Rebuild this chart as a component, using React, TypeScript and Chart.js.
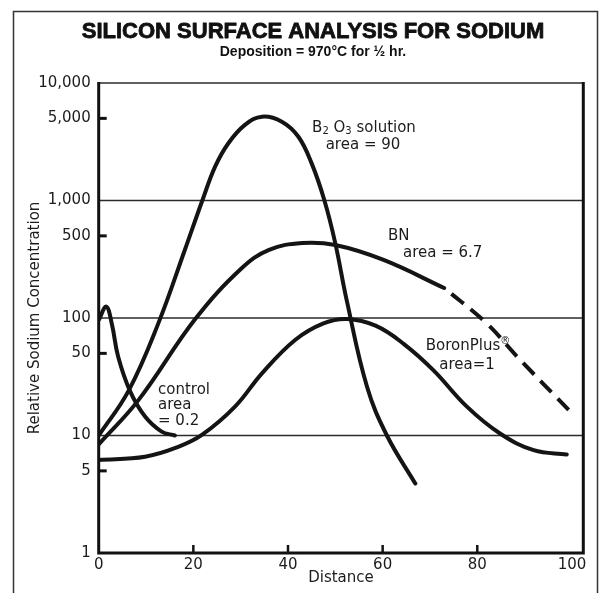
import React, { useEffect, useRef } from 'react';
import { Chart, registerables } from 'chart.js';

Chart.register(...registerables);

// ---- axis definitions ----
const xTickValues = [0, 20, 40, 60, 80, 100];
const yTickValues = [1, 5, 10, 50, 100, 500, 1000, 5000, 10000];
const yGridValues = [10, 100, 1000];
const yMarkValues = [5, 50, 500, 5000];
const xMarkValues = [20, 40, 60, 80];

// ---- series (distance, relative sodium concentration) ----
const controlDistance = [0, 1.6, 2.8, 4.1, 6.6, 9.8, 13.3, 16.1];
const controlValues = [96, 125, 88, 47, 24, 14.5, 10.8, 10];

const b2o3Distance = [0, 6.3, 12.6, 18.2, 21.9, 24.6, 27.4, 30.9, 34.5, 38.7, 42.2, 45.0, 47.7, 50.0, 52.4, 56.7, 60.9, 66.9];
const b2o3Values = [10, 24, 90, 379, 1000, 1940, 3070, 4400, 5170, 4690, 3490, 2070, 1000, 432, 142, 26, 10, 3.9];

const bnDistance = [0, 8.4, 20.4, 30.2, 36, 43, 50.0, 60.2, 73];
const bnValues = [8.4, 20, 98, 265, 380, 435, 418, 312, 180];

const bnDashedDistance = [73, 82.0, 88.4, 99.3];
const bnDashedValues = [180, 90, 47, 16.5];

const boronPlusDistance = [0, 9.8, 16.8, 21.8, 28.8, 34.5, 41.5, 47.5, 52.5, 58.5, 64.5, 70.7, 77.8, 84.8, 91.9, 98.9];
const boronPlusValues = [6.2, 6.6, 8.0, 10.1, 17.6, 33.8, 65, 90, 98, 86, 60, 36, 17.6, 10.4, 7.5, 6.9];

const FONT = '"DejaVu Sans", "Liberation Sans", sans-serif';
const TITLE_FONT = '"Liberation Sans", Arial, sans-serif';
const INK = '#1c1c1c';

const toPoints = (xs: number[], ys: number[]) => xs.map((x, i) => ({ x, y: ys[i] }));

type Part = { t: string; size?: number; dy?: number };

function drawRich(ctx: CanvasRenderingContext2D, parts: Part[], x: number, y: number, align: 'left' | 'center') {
  let w = 0;
  for (const p of parts) {
    ctx.font = `${p.size ?? 15}px ${FONT}`;
    w += ctx.measureText(p.t).width;
  }
  let cx = align === 'center' ? x - w / 2 : x;
  ctx.textAlign = 'left';
  ctx.textBaseline = 'alphabetic';
  for (const p of parts) {
    ctx.font = `${p.size ?? 15}px ${FONT}`;
    ctx.fillText(p.t, cx, y + (p.dy ?? 0));
    cx += ctx.measureText(p.t).width;
  }
}

const decorPlugin = {
  id: 'decor',
  beforeDatasetsDraw(chart: any) {
    const { ctx, chartArea: a, scales } = chart;
    const y = scales.y;
    ctx.save();
    ctx.strokeStyle = '#2b2b2b';
    ctx.lineWidth = 1.4;
    for (const v of yGridValues) {
      const py = y.getPixelForValue(v);
      ctx.beginPath();
      ctx.moveTo(a.left, py);
      ctx.lineTo(a.right, py);
      ctx.stroke();
    }
    const top = y.getPixelForValue(10000);
    ctx.beginPath();
    ctx.moveTo(a.left, top);
    ctx.lineTo(a.right, top);
    ctx.stroke();
    ctx.restore();
  },
  afterDatasetsDraw(chart: any) {
    const { ctx, chartArea: a, scales } = chart;
    const x = scales.x;
    const y = scales.y;
    ctx.save();
    // plot frame (left, bottom, right)
    ctx.strokeStyle = '#111';
    ctx.lineWidth = 3;
    ctx.beginPath();
    ctx.moveTo(a.left, a.top - 1);
    ctx.lineTo(a.left, a.bottom);
    ctx.lineTo(a.right, a.bottom);
    ctx.lineTo(a.right, a.top - 1);
    ctx.stroke();
    // inner y tick marks
    for (const v of yMarkValues) {
      const py = y.getPixelForValue(v);
      ctx.beginPath();
      ctx.moveTo(a.left, py);
      ctx.lineTo(a.left + 8, py);
      ctx.stroke();
    }
    // inner x tick marks
    ctx.lineWidth = 2.5;
    for (const v of xMarkValues) {
      const px = x.getPixelForValue(v);
      ctx.beginPath();
      ctx.moveTo(px, a.bottom);
      ctx.lineTo(px, a.bottom - 8);
      ctx.stroke();
    }

    // outer figure frame
    ctx.strokeStyle = '#333';
    ctx.lineWidth = 1.5;
    ctx.beginPath();
    ctx.moveTo(13.5, 600);
    ctx.lineTo(13.5, 11.5);
    ctx.lineTo(597.5, 11.5);
    ctx.lineTo(597.5, 600);
    ctx.stroke();

    // titles (heavy)
    ctx.fillStyle = '#111';
    ctx.strokeStyle = '#111';
    ctx.lineJoin = 'round';
    ctx.textAlign = 'center';
    ctx.textBaseline = 'alphabetic';
    ctx.font = `bold 22px ${TITLE_FONT}`;
    ctx.lineWidth = 0.8;
    ctx.fillText('SILICON SURFACE ANALYSIS FOR SODIUM', 313, 38);
    ctx.strokeText('SILICON SURFACE ANALYSIS FOR SODIUM', 313, 38);
    ctx.font = `bold 14px ${TITLE_FONT}`;
    ctx.fillText('Deposition = 970°C for ½ hr.', 313, 56);

    // axis titles
    ctx.fillStyle = INK;
    ctx.font = `15px ${FONT}`;
    ctx.textAlign = 'center';
    ctx.textBaseline = 'middle';
    ctx.fillText('Distance', (a.left + a.right) / 2, 578);
    ctx.save();
    ctx.translate(35, (a.top + a.bottom) / 2);
    ctx.rotate(-Math.PI / 2);
    ctx.fillText('Relative Sodium Concentration', 0, 0);
    ctx.restore();

    // curve annotations
    ctx.fillStyle = INK;
    drawRich(ctx, [{ t: 'B' }, { t: '2', size: 10, dy: 2 }, { t: ' O' }, { t: '3', size: 10, dy: 2 }, { t: ' solution' }], 364, 132, 'center');
    drawRich(ctx, [{ t: 'area = 90' }], 363, 149, 'center');
    drawRich(ctx, [{ t: 'BN' }], 388, 240, 'left');
    drawRich(ctx, [{ t: 'area = 6.7' }], 403, 257, 'left');
    drawRich(ctx, [{ t: 'BoronPlus' }, { t: '®', size: 10, dy: -6 }], 468, 350, 'center');
    drawRich(ctx, [{ t: 'area=1' }], 467, 369, 'center');
    drawRich(ctx, [{ t: 'control' }], 158, 394, 'left');
    drawRich(ctx, [{ t: 'area' }], 158, 409, 'left');
    drawRich(ctx, [{ t: '= 0.2' }], 158, 425, 'left');
    ctx.restore();
  },
};

const lineStyle = {
  borderColor: '#141414',
  borderWidth: 4,
  pointRadius: 0,
  fill: false,
  tension: 0.4,
  borderCapStyle: 'round' as const,
};

export default function App() {
  const ref = useRef<HTMLCanvasElement | null>(null);

  useEffect(() => {
    if (!ref.current) return;
    const chart = new Chart(ref.current, {
      type: 'line',
      data: {
        datasets: [
          { label: 'control', data: toPoints(controlDistance, controlValues), ...lineStyle },
          { label: 'B2O3 solution', data: toPoints(b2o3Distance, b2o3Values), ...lineStyle },
          { label: 'BN', data: toPoints(bnDistance, bnValues), ...lineStyle },
          {
            label: 'BN (extrapolated)',
            data: toPoints(bnDashedDistance, bnDashedValues),
            ...lineStyle,
            borderCapStyle: 'butt' as const,
            borderDash: [16, 9],
            borderDashOffset: 16,
          },
          { label: 'BoronPlus', data: toPoints(boronPlusDistance, boronPlusValues), ...lineStyle },
        ],
      },
      options: {
        responsive: false,
        animation: false,
        devicePixelRatio: 1,
        layout: { padding: { left: 0, top: 83, right: 23.7, bottom: 0 } },
        plugins: {
          legend: { display: false },
          tooltip: { enabled: false },
          title: { display: false },
        },
        scales: {
          x: {
            type: 'linear',
            min: 0,
            max: 102.4,
            afterBuildTicks: (s: any) => {
              s.ticks = xTickValues.map((v) => ({ value: v }));
            },
            afterFit: (s: any) => {
              s.height = 40;
            },
            grid: { display: false, drawTicks: false },
            border: { display: false },
            ticks: {
              autoSkip: false,
              maxRotation: 0,
              padding: 3,
              color: INK,
              font: { family: FONT, size: 15 },
              callback: (v: any) => String(v),
            },
          },
          y: {
            type: 'logarithmic',
            min: 1,
            max: 10000,
            afterBuildTicks: (s: any) => {
              s.ticks = yTickValues.map((v) => ({ value: v }));
            },
            afterFit: (s: any) => {
              s.width = 98.7;
            },
            grid: { display: false, drawTicks: false },
            border: { display: false },
            ticks: {
              autoSkip: false,
              padding: 8,
              color: INK,
              font: { family: FONT, size: 15 },
              callback: (v: any) => Number(v).toLocaleString('en-US'),
            },
          },
        },
      },
      plugins: [decorPlugin],
    } as any);
    return () => chart.destroy();
  }, []);

  return (
    <div style={{ position: 'absolute', left: 0, top: 0, width: 607, height: 593, background: '#fff' }}>
      <canvas ref={ref} width={607} height={593} style={{ display: 'block', width: 607, height: 593 }} />
    </div>
  );
}
